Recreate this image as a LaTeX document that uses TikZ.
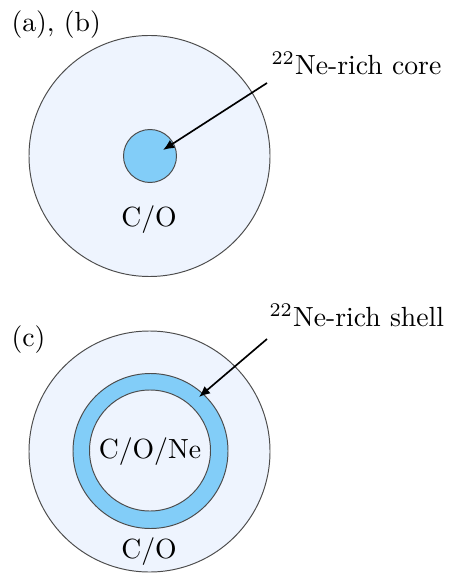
\documentclass[tikz,border=0pt]{standalone}
\usetikzlibrary{arrows.meta}
\definecolor{pale}{RGB}{238,244,254}
\definecolor{core}{RGB}{130,205,248}
\tikzset{
  disc/.style={draw=black!70, line width=0.35pt, circle, inner sep=0pt},
  lbl/.style={inner sep=0pt, font=\fontsize{10}{12}\selectfont},
  pointer/.style={-{Latex[length=4pt,width=3.4pt]}, line width=0.6pt}
}
\begin{document}
\begin{tikzpicture}[x=0.361pt,y=-0.361pt]
\useasboundingbox (0,0) rectangle (452,578);
% top panel
\node[disc, fill=pale, minimum size=241*0.361pt] (outerA) at (149.5,156) {};
\node[disc, fill=core, minimum size=53*0.361pt] (coreA) at (150,156) {};
\node[lbl] (coA) at (149,220) {C/O};
\node[lbl, anchor=west] (ab) at (11,25) {(a), (b)};
\node[lbl, anchor=base west] (corelbl) at (271,75) {$^{22}$Ne-rich core};
\coordinate (startA) at (267,83);
\coordinate (tipA) at (163,150);
\draw[pointer] (startA) -- (tipA);
% bottom panel
\node[disc, fill=pale, minimum size=241*0.361pt] (outerC) at (149.5,451.5) {};
\node[disc, fill=core, minimum size=155*0.361pt] (shellC) at (150.5,451) {};
\node[disc, fill=pale, minimum size=121*0.361pt] (innerC) at (150,450.5) {};
\node[lbl] (cone) at (150,452) {C/O/Ne};
\node[lbl] (coC) at (149,552) {C/O};
\node[lbl, anchor=west] (c) at (11,340) {(c)};
\node[lbl, anchor=base west] (shelllbl) at (269,327) {$^{22}$Ne-rich shell};
\coordinate (startC) at (267,339);
\coordinate (tipC) at (199,397);
\draw[pointer] (startC) -- (tipC);
\end{tikzpicture}
\end{document}
